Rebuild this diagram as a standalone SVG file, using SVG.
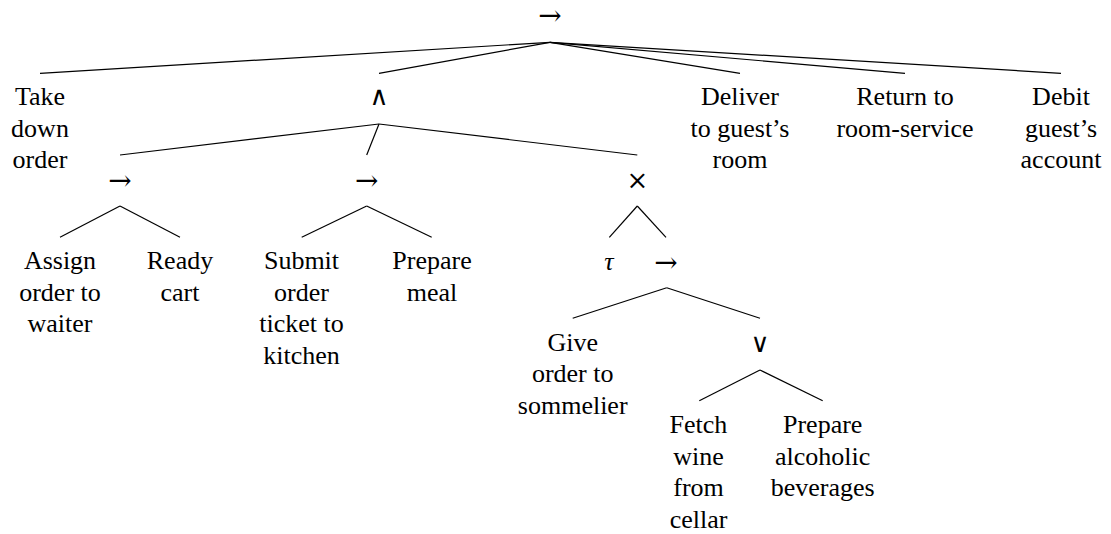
<svg xmlns="http://www.w3.org/2000/svg" width="1111" height="534" viewBox="0 0 1111 534">
  <style>
    .lbl { font-size: 26px; fill: #000; text-anchor: middle; }
    .op { font-size: 26px; fill: #000; text-anchor: middle; }
    .arr { font-size: 28px; fill: #000; text-anchor: middle; }
    .tau { font-style: italic; font-size: 26px; fill: #000; text-anchor: middle; }
    .edges line { stroke: #000; stroke-width: 1.2; stroke-linecap: butt; }
  </style>
  <rect width="1111" height="534" fill="#fff"/>

  <!-- connectors -->
  <g id="edges" class="edges">
    <!-- root sequence -->
    <line x1="550" y1="42.3" x2="40" y2="73.3"/>
    <line x1="550" y1="42.3" x2="379" y2="73.3"/>
    <line x1="550" y1="42.3" x2="740" y2="73.3"/>
    <line x1="550" y1="42.3" x2="905" y2="73.3"/>
    <line x1="550" y1="42.3" x2="1061" y2="73.3"/>
    <!-- parallel block -->
    <line x1="379" y1="124" x2="120" y2="155"/>
    <line x1="379" y1="124" x2="366.7" y2="155"/>
    <line x1="379" y1="124" x2="637.3" y2="155"/>
    <!-- waiter sequence -->
    <line x1="120" y1="206" x2="60" y2="237.3"/>
    <line x1="120" y1="206" x2="180" y2="237.3"/>
    <!-- kitchen sequence -->
    <line x1="366.7" y1="206" x2="301.7" y2="237.3"/>
    <line x1="366.7" y1="206" x2="431.7" y2="237.3"/>
    <!-- exclusive choice -->
    <line x1="637.3" y1="206" x2="609.3" y2="237.3"/>
    <line x1="637.3" y1="206" x2="666" y2="237.3"/>
    <!-- sommelier sequence -->
    <line x1="666.7" y1="287.7" x2="572.7" y2="318.3"/>
    <line x1="666.7" y1="287.7" x2="760" y2="318.3"/>
    <!-- inclusive choice -->
    <line x1="760" y1="370" x2="699.3" y2="400.7"/>
    <line x1="760" y1="370" x2="822.7" y2="400.7"/>
  </g>

  <!-- operator symbols -->
  <g font-family="DejaVu Serif, serif">
    <g id="root"><text class="arr" x="550" y="25">→</text></g>
    <g id="and"><text class="op" x="379" y="105">∧</text></g>
    <g id="seq-waiter"><text class="arr" x="120" y="189.5">→</text></g>
    <g id="seq-kitchen"><text class="arr" x="366.7" y="189.5">→</text></g>
    <g id="xor"><text class="op" x="637.5" y="189">×</text></g>
    <g id="seq-sommelier"><text class="arr" x="666" y="271.5">→</text></g>
    <g id="or"><text class="op" x="760" y="352">∨</text></g>
  </g>

  <!-- activity labels -->
  <g font-family="Liberation Serif, Times New Roman, serif">
    <g id="tau"><text class="tau" x="609" y="270">τ</text></g>
    <g id="take-down-order">
      <text class="lbl" x="40" y="105">Take</text>
      <text class="lbl" x="40" y="136.5">down</text>
      <text class="lbl" x="40" y="168">order</text>
    </g>
    <g id="deliver">
      <text class="lbl" x="740" y="105">Deliver</text>
      <text class="lbl" x="740" y="136.5">to guest’s</text>
      <text class="lbl" x="740" y="168">room</text>
    </g>
    <g id="return">
      <text class="lbl" x="905" y="105">Return to</text>
      <text class="lbl" x="905" y="136.5">room-service</text>
    </g>
    <g id="debit">
      <text class="lbl" x="1061" y="105">Debit</text>
      <text class="lbl" x="1061" y="136.5">guest’s</text>
      <text class="lbl" x="1061" y="168">account</text>
    </g>
    <g id="assign">
      <text class="lbl" x="60" y="269">Assign</text>
      <text class="lbl" x="60" y="300.5">order to</text>
      <text class="lbl" x="60" y="332">waiter</text>
    </g>
    <g id="ready-cart">
      <text class="lbl" x="180" y="269">Ready</text>
      <text class="lbl" x="180" y="300.5">cart</text>
    </g>
    <g id="submit">
      <text class="lbl" x="301.5" y="269">Submit</text>
      <text class="lbl" x="301.5" y="300.5">order</text>
      <text class="lbl" x="301.5" y="332">ticket to</text>
      <text class="lbl" x="301.5" y="363.5">kitchen</text>
    </g>
    <g id="prepare-meal">
      <text class="lbl" x="432" y="269">Prepare</text>
      <text class="lbl" x="432" y="300.5">meal</text>
    </g>
    <g id="give-order">
      <text class="lbl" x="572.7" y="350.5">Give</text>
      <text class="lbl" x="572.7" y="382">order to</text>
      <text class="lbl" x="572.7" y="413.5">sommelier</text>
    </g>
    <g id="fetch-wine">
      <text class="lbl" x="698.5" y="433">Fetch</text>
      <text class="lbl" x="698.5" y="464.5">wine</text>
      <text class="lbl" x="698.5" y="496">from</text>
      <text class="lbl" x="698.5" y="527.5">cellar</text>
    </g>
    <g id="prepare-beverages">
      <text class="lbl" x="822.7" y="433">Prepare</text>
      <text class="lbl" x="822.7" y="464.5">alcoholic</text>
      <text class="lbl" x="822.7" y="496">beverages</text>
    </g>
  </g>
</svg>
